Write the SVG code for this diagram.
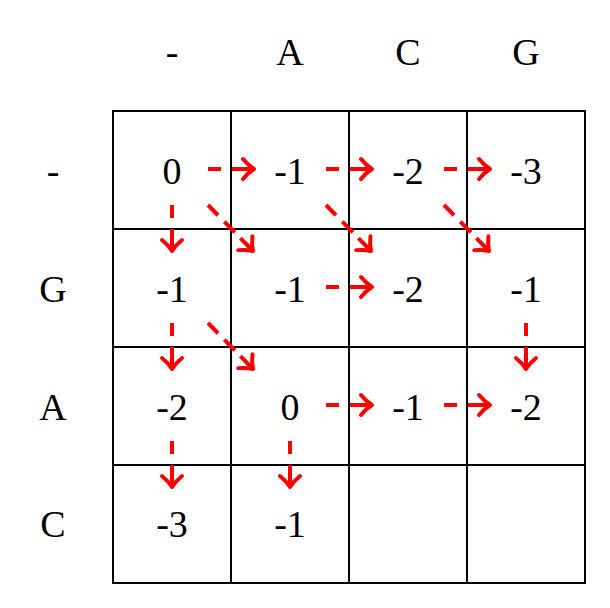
<svg xmlns="http://www.w3.org/2000/svg" width="610" height="608" viewBox="0 0 610 608">
<style>
  .cell { fill: none; stroke: #000; stroke-width: 2; }
  .t { font-family: "Liberation Serif", "DejaVu Serif", serif; font-size: 38px; fill: #000; text-anchor: middle; }
  .arr { fill: none; stroke: #ff0000; stroke-width: 4; marker-start: url(#ah); }
  .hv { stroke-dasharray: 22 11 13; }
  .dg { stroke-dasharray: 18 8 15 9 16; }
</style>
<defs>
  <marker id="ah" markerUnits="userSpaceOnUse" orient="auto-start-reverse" refX="0" refY="0" markerWidth="30" markerHeight="30" overflow="visible">
    <path d="M -11 -10 C -6.5 -4.5, -2.5 -1.5, 0 0 C -2.5 1.5, -6.5 4.5, -11 10" fill="none" stroke="#ff0000" stroke-width="4" stroke-linecap="round" stroke-linejoin="round"/>
  </marker>
</defs>
<rect width="610" height="608" fill="#fff"/>
<g id="headers">
  <text class="t" x="172" y="65">-</text>
  <text class="t" x="290" y="65">A</text>
  <text class="t" x="408" y="65">C</text>
  <text class="t" x="526" y="65">G</text>
  <text class="t" x="53" y="184">-</text>
  <text class="t" x="53" y="302">G</text>
  <text class="t" x="53" y="420">A</text>
  <text class="t" x="53" y="537">C</text>
</g>
<g id="c00"><rect class="cell" x="113" y="111" width="118" height="118"/><text class="t" x="172" y="184">0</text></g>
<g id="c01"><rect class="cell" x="231" y="111" width="118" height="118"/><text class="t" x="290" y="184">-1</text></g>
<g id="c02"><rect class="cell" x="349" y="111" width="118" height="118"/><text class="t" x="408" y="184">-2</text></g>
<g id="c03"><rect class="cell" x="467" y="111" width="118" height="118"/><text class="t" x="526" y="184">-3</text></g>
<g id="c10"><rect class="cell" x="113" y="229" width="118" height="118"/><text class="t" x="172" y="302">-1</text></g>
<g id="c11"><rect class="cell" x="231" y="229" width="118" height="118"/><text class="t" x="290" y="302">-1</text></g>
<g id="c12"><rect class="cell" x="349" y="229" width="118" height="118"/><text class="t" x="408" y="302">-2</text></g>
<g id="c13"><rect class="cell" x="467" y="229" width="118" height="118"/><text class="t" x="526" y="302">-1</text></g>
<g id="c20"><rect class="cell" x="113" y="347" width="118" height="118"/><text class="t" x="172" y="420">-2</text></g>
<g id="c21"><rect class="cell" x="231" y="347" width="118" height="118"/><text class="t" x="290" y="420">0</text></g>
<g id="c22"><rect class="cell" x="349" y="347" width="118" height="118"/><text class="t" x="408" y="420">-1</text></g>
<g id="c23"><rect class="cell" x="467" y="347" width="118" height="118"/><text class="t" x="526" y="420">-2</text></g>
<g id="c30"><rect class="cell" x="113" y="465" width="118" height="118"/><text class="t" x="172" y="537">-3</text></g>
<g id="c31"><rect class="cell" x="231" y="465" width="118" height="118"/><text class="t" x="290" y="537">-1</text></g>
<g id="c32"><rect class="cell" x="349" y="465" width="118" height="118"/></g>
<g id="c33"><rect class="cell" x="467" y="465" width="118" height="118"/></g>
<g id="connectors">
  <!-- horizontal -->
  <path class="arr hv" d="M 254 169 L 208 169"/>
  <path class="arr hv" d="M 372 169 L 326 169"/>
  <path class="arr hv" d="M 490 169 L 444 169"/>
  <path class="arr hv" d="M 372 287 L 326 287"/>
  <path class="arr hv" d="M 372 405 L 326 405"/>
  <path class="arr hv" d="M 490 405 L 444 405"/>
  <!-- vertical -->
  <path class="arr hv" d="M 172 251 L 172 205"/>
  <path class="arr hv" d="M 172 369 L 172 323"/>
  <path class="arr hv" d="M 526 369 L 526 323"/>
  <path class="arr hv" d="M 172 487 L 172 441"/>
  <path class="arr hv" d="M 290 487 L 290 441"/>
  <!-- diagonal -->
  <path class="arr dg" d="M 253 251 L 208 205"/>
  <path class="arr dg" d="M 371 251 L 326 205"/>
  <path class="arr dg" d="M 489 251 L 444 205"/>
  <path class="arr dg" d="M 253 369 L 208 323"/>
</g>
</svg>
